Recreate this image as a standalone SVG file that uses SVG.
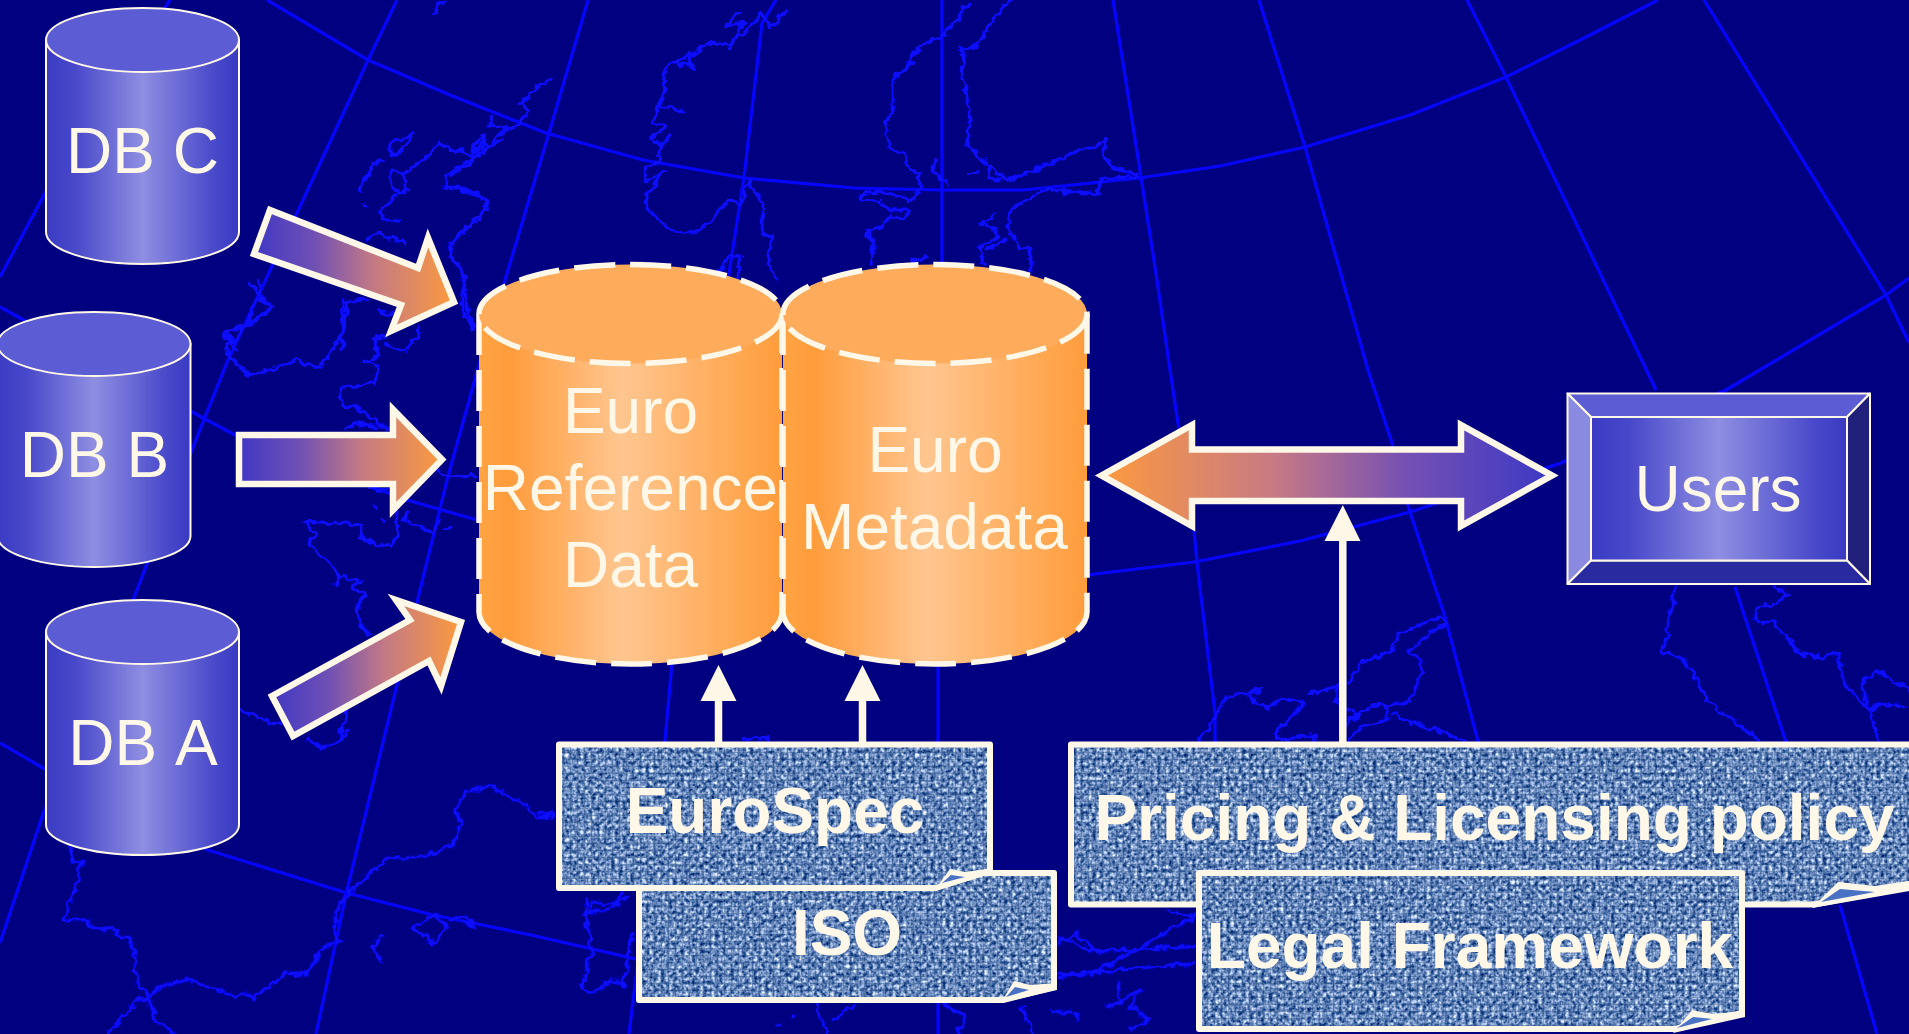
<svg xmlns="http://www.w3.org/2000/svg" width="1909" height="1034" viewBox="0 0 1909 1034">
<style>
text{font-family:"Liberation Sans",Arial,sans-serif;fill:#fff8e8;font-size:64px;text-anchor:middle}
.b{font-weight:700}
.gr{fill:none;stroke:#0505ff;stroke-width:3.2;stroke-linejoin:round}
.co{fill:none;stroke:#0a0aff;stroke-width:3.2;stroke-linejoin:round;stroke-linecap:round}
.co path{vector-effect:non-scaling-stroke}
.cy{stroke:#fff8e8;stroke-width:2}
.or{stroke:#fff8e8;stroke-width:5.500;stroke-dasharray:41 15}
.ar{stroke:#fff8e8;stroke-width:6.500;stroke-linejoin:miter;stroke-miterlimit:10}
.ln{stroke:#fff8e8;stroke-width:7.500}
.hd{fill:#fff8e8}
.card{stroke:#fff8e8;stroke-width:6;stroke-linejoin:round;fill:none}
.fold{fill:#fff8e8}
.foldb{fill:#4a72c4}
.bv{stroke:#fff8e8;stroke-width:2;stroke-linejoin:round}
</style>
<defs>
<linearGradient id="blue"><stop offset="0" stop-color="#3b3bc4"/><stop offset=".15" stop-color="#4848ca"/><stop offset=".5" stop-color="#8e8ee2"/><stop offset=".88" stop-color="#4848ca"/><stop offset="1" stop-color="#3a3ac2"/></linearGradient>
<linearGradient id="orange"><stop offset="0" stop-color="#ffa444"/><stop offset=".1" stop-color="#ff9c3c"/><stop offset=".47" stop-color="#ffc690"/><stop offset=".88" stop-color="#ffa64e"/><stop offset="1" stop-color="#ff9c3c"/></linearGradient>
<linearGradient id="flowR"><stop offset="0" stop-color="#4038c4"/><stop offset=".3" stop-color="#7050b4"/><stop offset=".6" stop-color="#c47a84"/><stop offset="1" stop-color="#fc9a3e"/></linearGradient>
<linearGradient id="flowL"><stop offset="0" stop-color="#fc9a3e"/><stop offset=".38" stop-color="#c87a84"/><stop offset=".68" stop-color="#7450b4"/><stop offset="1" stop-color="#3c38c4"/></linearGradient>
<filter id="denim" x="0" y="0" width="1" height="1" color-interpolation-filters="sRGB">
<feTurbulence type="fractalNoise" baseFrequency=".26" numOctaves="2" seed="4"/>
<feColorMatrix values="1.6 0 0 0 -.35 1.4 0 0 0 -.13 1.1 0 0 0 .22 0 0 0 0 1"/>
<feGaussianBlur stdDeviation=".5"/>
<feComposite in2="SourceAlpha" operator="in"/>
</filter>
<filter id="wiggle" filterUnits="userSpaceOnUse" x="0" y="0" width="1909" height="1034">
<feTurbulence type="fractalNoise" baseFrequency=".12" numOctaves="2" seed="7" result="n"/>
<feDisplacementMap in="SourceGraphic" in2="n" scale="9" xChannelSelector="R" yChannelSelector="G"/>
</filter>
<pattern id="weave" width="7" height="7" patternUnits="userSpaceOnUse"><path d="M0 3.500H7M3.500 0V7" stroke="#123c74" stroke-width="1.600" stroke-opacity=".4" fill="none"/></pattern>
</defs>
<rect id="background" width="1909" height="1034" fill="#000080"/>
<g id="map">
<g class="gr">
<path d="M267 0L368 60 450 95 546 133 643 160 744 178 854 188 941 190 1024 190 1139 178 1220 166 1305 147 1410 115 1506 77 1590 35 1658 0"/>
<path d="M0 307L20 318 192 412 233 434 407 500 477 520M1087 575L1194 562 1300 541 1410 512 1561 463 1726 390 1886 295 1909 278"/>
<path d="M0 743L43 768 208 850 347 893 433 915 531 935 588 948 640 960"/>
<path d="M170 0L45 193 0 277"/>
<path d="M397 0L368 60 297 213 228 360 203 422 147 564 133 600 43 814 0 943"/>
<path d="M588 0L549 133 505 280 477 372 447 480 420 590 386 730 347 890 316 1034"/>
<path d="M776 0L762 23 744 177 730 267 672 663 665 740 629 1034"/>
<path d="M942 0V264M938 660V1034"/>
<path d="M1113 0L1141 177 1157 280 1170 370 1194 530 1197 563 1215 713 1215 745"/>
<path d="M1259 0L1305 147 1368 370 1392 443 1410 512 1445 617 1479 745"/>
<path d="M1467 0L1506 77 1656 390M1735 587L1787 745M1840 905L1877 1034"/>
<path d="M1704 0L1886 295 1909 343"/>
</g>
<g class="co" filter="url(#wiggle)">
<g transform="translate(450,0) scale(.4591,.3333)">
<path d="M730 30L700 85 680 40 640 100 610 130 560 130 520 170 480 190 465 220 470 270 450 330 440 370 470 380 440 410 460 440 455 490 425 500 430 540 465 520 430 580 425 620 470 680 510 700 545 690 610 600 635 610 650 545 680 610 680 700 700 710 695 800 710 840"/>
<path d="M630 35L600 80 640 70 610 140M520 170L530 205 500 190M460 320L505 330M475 410L460 450"/>
<path d="M220 235L190 265 155 310 170 330 150 375 115 390 95 425M65 405L50 450 75 460 70 410M0 450L50 465 40 495 0 525M0 565L25 565 80 600 75 630 0 730M0 760L35 835M90 350L85 375 110 385"/>
<path d="M1130 5L1110 50 1075 105 1050 120 1010 160 1005 190 965 235 965 320 950 370 955 440 990 465 1000 510 1020 520 1025 565 1000 600 960 580 900 575 895 600 940 605 955 630 1000 630 990 660 960 650 940 680 905 690 925 730 915 790"/>
<path d="M1220 0L1170 85 1140 145 1110 145 1120 160 1115 230 1135 330 1125 420 1150 470 1190 510 1205 545 1290 500 1370 450 1410 440 1430 415 1420 460 1440 500 1480 515 1500 530 1420 535 1410 580 1340 575 1300 565 1220 630 1215 680 1240 740 1265 740 1265 810"/>
<path d="M1060 480L1050 510 1080 545M1130 520L1150 515M1175 505L1170 530 1195 540M1180 650L1155 670 1190 690 1195 710 1150 745 1165 790M1210 720L1170 750M1040 770L1005 785M635 765L610 770 585 815M630 770L625 840"/>
</g>
<g transform="scale(.3333)">
<path d="M1300 40L1330 5M1240 405L1170 430 1170 465 1220 440 1240 405M1080 570L1120 490 1150 485M1095 615L1100 618M1320 430L1270 480 1210 520 1170 510 1170 540 1195 580 1220 570 1205 525M1190 590L1140 630 1150 660 1195 660M1320 430L1410 465 1440 440 1450 410M1440 410L1470 440M1500 420L1340 525 1335 565 1400 565 1460 600 1455 630 1350 730 1350 770 1385 800 1400 920 1420 985"/>
<path d="M1215 730L1135 700 1100 720M750 850L770 880 790 910 820 920 760 960 670 1000 710 1050M1030 900L1025 1050M1140 935L1180 945M1130 1010L1120 1050"/>
</g>
<g transform="translate(190,280) scale(.3333)">
<path d="M205 0L215 55 250 80 190 130 105 155 130 185 105 200 125 240 145 255 180 285 250 265 320 240 390 265 465 150 470 65 530 60M200 60L170 130 130 190"/>
<path d="M590 170L550 180 570 230 525 245 565 255 555 310 450 325 455 375 510 385 550 420 600 450M590 190L640 215 680 170 690 145M570 100L610 100M470 445L510 430 560 440M540 625L590 630M552 680L560 682M572 715L580 725"/>
<path d="M620 690L620 760 605 800 515 780 515 735 370 725 345 725 380 760 355 790 385 820 445 880 435 910M445 890L510 905 490 925 530 945 500 975 510 1030 540 1070"/>
<path d="M650 700L645 720 730 760 750 720M760 745L785 745M820 0L815 60 825 110 860 140M740 570L770 590 860 590M150 1290L250 1330 275 1330M470 1290L450 1380"/>
</g>
<g transform="translate(0,730) scale(.4082,.3333)">
<path d="M850 0L830 40 790 55 750 25"/>
<path d="M1355 255L1320 262 1285 225 1205 170 1140 185 1115 240 1130 285 1110 345 1040 380 950 385 850 490 820 550 820 600 835 635 790 655 750 735 700 730 620 805 600 785 580 800 460 750 400 765 365 800 335 760 325 640 270 595 240 600 200 570 155 570 180 490 200 400 175 395 175 350"/>
<path d="M365 800L335 815 265 910M365 810L380 870 425 910M935 620L910 650 935 690M1010 590L1060 640 1095 590 1065 555 1010 590M1100 570L1140 560 1165 590 1130 575"/>
<path d="M1450 515L1435 570 1450 660 1425 770 1450 790 1500 750 1525 770 1545 650 1550 610M1435 550L1500 535 1525 490"/>
</g>
<g transform="translate(1090,560) scale(.5222,.3333)">
<path d="M300 400L260 410 240 470 210 540M300 400L330 385 305 410 340 445 370 415 410 430 355 520 360 540 430 525 430 545M420 400L475 380 470 430 520 470 495 480 490 500"/>
<path d="M495 370L520 310 580 270 590 220 670 170 680 185 610 270 635 300 635 345 610 425 540 440 495 475M570 440L570 480 520 500 495 540M580 465L640 500 720 540"/>
<path d="M1120 80L1105 220 1095 280 1130 290 1160 350 1180 420 1280 540M1310 80L1335 100 1320 125 1275 145 1275 180 1310 190 1360 280 1400 295 1430 280 1445 370 1490 450 1520 430 1560 440M1480 370L1505 330 1568 390M1480 380L1490 450 1510 540"/>
</g>
<g transform="translate(1060,720) scale(.5414,.3333)">
<path d="M0 650L50 690 130 690 250 680M0 770L110 750 250 730M200 570L250 590 180 650 130 700 60 760M110 780L110 850 90 860 150 810 130 860 165 900 130 930M30 880L30 900"/>
</g>
<g transform="translate(540,640) scale(.3571,.3333)">
<path d="M130 780L125 850 140 870M150 790L220 790 245 770M0 520L40 520M1130 1090L1190 1130 1170 1182M780 1090L785 1140 810 1182M880 1095L820 1140M665 1155L668 1158M708 1130L712 1132M1350 1100L1380 1182M1430 1110L1490 1120M1450 910L1500 880 1568 940M1450 1000L1568 1000M570 297L640 297"/>
</g>
</g>
</g>
<g id="db-c">
<path class="cy" fill="url(#blue)" d="M46 40V232A96.500 32 0 0 0 239 232V40Z"/>
<ellipse class="cy" cx="142.500" cy="40" rx="96.500" ry="32" fill="#5c5cd4"/>
<text x="142.500" y="173">DB C</text>
</g>
<g id="db-b">
<path class="cy" fill="url(#blue)" d="M-2.500 344V536A96.500 31 0 0 0 190.500 536V344Z"/>
<ellipse class="cy" cx="94" cy="344" rx="96.500" ry="32" fill="#5c5cd4"/>
<text x="94.500" y="477">DB B</text>
</g>
<g id="db-a">
<path class="cy" fill="url(#blue)" d="M46 632V825A96.500 30 0 0 0 239 825V632Z"/>
<ellipse class="cy" cx="142.500" cy="632" rx="96.500" ry="32" fill="#5c5cd4"/>
<text x="143" y="765" style="font-kerning:none">DB A</text>
</g>
<g id="euro-reference-data">
<path fill="url(#orange)" d="M479 314V612A151.500 52 0 0 0 782 612V314Z"/>
<path class="or" fill="none" d="M479 314V612A151.500 52 0 0 0 782 612V314"/>
<ellipse class="or" cx="630.500" cy="314" rx="151.500" ry="49.500" fill="#ffab5c"/>
<text x="630.500" y="433">Euro</text><text x="630.500" y="510">Reference</text><text x="630.500" y="587">Data</text>
</g>
<g id="euro-metadata">
<path fill="url(#orange)" d="M783 314V612A152 52 0 0 0 1087 612V314Z"/>
<path class="or" fill="none" d="M783 314V612A152 52 0 0 0 1087 612V314"/>
<ellipse class="or" cx="935" cy="314" rx="152" ry="49.500" fill="#ffab5c"/>
<text x="935" y="472">Euro</text><text x="934.500" y="549">Metadata</text>
</g>
<g id="users">
<path class="bv" fill="#5c5cd4" d="M1567.500 393.500H1870L1847 417H1591Z"/>
<path class="bv" fill="#8a8ae0" d="M1567.500 393.500L1591 417V560.500L1567.500 584Z"/>
<path class="bv" fill="#20207a" d="M1870 393.500V584L1847 560.500V417Z"/>
<path class="bv" fill="#2a2aa0" d="M1567.500 584L1591 560.500H1847L1870 584Z"/>
<rect class="bv" x="1591" y="417" width="256" height="143.500" fill="url(#blue)"/>
<text x="1718" y="511">Users</text>
</g>
<g id="connectors">
<path class="ar" fill="url(#flowR)" d="M270 210L418 268 428 238 454 302 391 331 401 305 254 254Z"/>
<path class="ar" fill="url(#flowR)" d="M239 435H393V409.500L442 459.500 393 510V484H239Z"/>
<path class="ar" fill="url(#flowR)" d="M272 696L410 620 396 600 461 622 441 686 429 661 293 736Z"/>
<path class="ar" fill="url(#flowL)" d="M1101.500 475.500L1192 425V449.500H1461V425L1552 475.500 1461 526V501H1192V526Z"/>
<path class="ln" d="M718.500 700V742M862.500 700V742M1342.800 538V742"/>
<path class="hd" d="M718.500 665L736.500 701H700.500ZM862.500 665L880.500 701H844.500ZM1342.800 505L1360.500 541H1324.500Z"/>
</g>
<g id="iso">
<path fill="#000" filter="url(#denim)" d="M639 873H1054V987L1003 1000H639Z"/>
<path fill="url(#weave)" d="M639 873H1054V987L1003 1000H639Z"/>
<path class="card" d="M639 873H1054V987L1003 1000H639Z"/>
<path class="fold" d="M1001 1003L1014 981 1030 985 1057 983V990Z"/>
<path class="foldb" d="M1006 997L1015 987 1029 990Z"/>
<text class="b" x="847" y="955">ISO</text>
</g>
<g id="eurospec">
<path fill="#000" filter="url(#denim)" d="M559 744.500H990V871L936 888H559Z"/>
<path fill="url(#weave)" d="M559 744.500H990V871L936 888H559Z"/>
<path class="card" d="M559 744.500H990V871L936 888H559Z"/>
<path class="fold" d="M934 891L950 869 965 872 993 868V873Z"/>
<path class="foldb" d="M942 883L951 875 965 877Z"/>
<text class="b" x="775" y="833">EuroSpec</text>
</g>
<g id="pricing">
<path fill="#000" filter="url(#denim)" d="M1071 744.500H1925V884L1814 904.500H1071Z"/>
<path fill="url(#weave)" d="M1071 744.500H1925V884L1814 904.500H1071Z"/>
<path class="card" d="M1071 744.500H1925V884L1814 904.500H1071Z"/>
<path class="fold" d="M1812 908L1838 882 1875 886 1915 880V890Z"/>
<path class="foldb" d="M1821 902L1840 889 1875 892Z"/>
<text class="b" x="1494.500" y="840">Pricing &amp; Licensing policy</text>
</g>
<g id="legal">
<path fill="#000" filter="url(#denim)" d="M1199 873H1742V1013L1675 1029H1199Z"/>
<path fill="url(#weave)" d="M1199 873H1742V1013L1675 1029H1199Z"/>
<path class="card" d="M1199 873H1742V1013L1675 1029H1199Z"/>
<path class="fold" d="M1673 1033L1692 1010 1712 1014 1745 1011V1017Z"/>
<path class="foldb" d="M1677 1028L1693 1017 1712 1019Z"/>
<text class="b" x="1470" y="968">Legal Framework</text>
</g>
</svg>
